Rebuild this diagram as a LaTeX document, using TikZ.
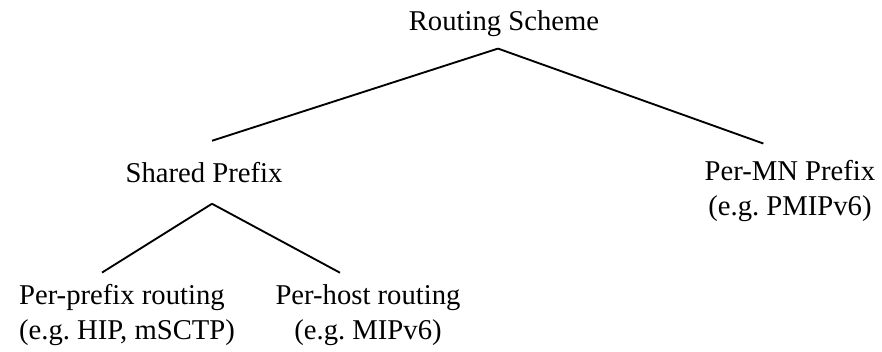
\documentclass[tikz,border=0pt]{standalone}
\usepackage{fontspec}
\setmainfont{Liberation Serif}
\begin{document}
\begin{tikzpicture}[x=0.75pt,y=-0.75pt,
  lbl/.style={font=\fontsize{21.5}{26.25}\selectfont, align=center, inner xsep=0pt},
  branch/.style={line width=1.4pt}]
\frenchspacing
\useasboundingbox (0,0) rectangle (882,351);
%-------------- root --------------------
\node[lbl, inner ysep=8.9pt] (rs) at (504,23.4) {Routing Scheme};
%-------------- level 1 --------------------
\node[lbl, inner ysep=15.75pt] (sp) at (204,172.25) {Shared Prefix};
\node[lbl, inner ysep=12.4pt] (mn) at (790,191) {Per-MN Prefix\\(e.g. PMIPv6)};
%-------------- level 2 --------------------
\node[lbl, align=left, inner ysep=8.6pt] (pp) at (127,315) {Per-prefix routing\\(e.g. HIP, mSCTP)};
\node[lbl, inner ysep=8.6pt] (ph) at (368,315) {Per-host routing\\(e.g. MIPv6)};

\draw[branch] ([xshift=-4.5pt]rs.south) -- ([xshift=6pt]sp.north);
\draw[branch] ([xshift=-4.5pt]rs.south) -- ([xshift=-20pt]mn.north);
\draw[branch] ([xshift=6pt]sp.south) -- ([xshift=-18.75pt]pp.north);
\draw[branch] ([xshift=6pt]sp.south) -- ([xshift=-21pt]ph.north);
\end{tikzpicture}
\end{document}
